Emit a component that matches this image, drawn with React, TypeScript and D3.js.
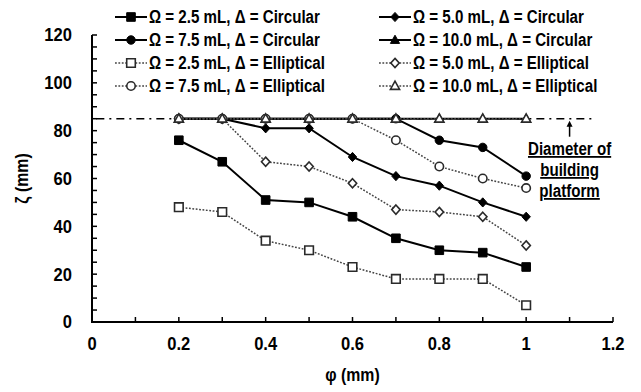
import React, { useEffect, useRef } from 'react';
import * as d3 from 'd3';

// phi values (mm)
const phi = [0.2, 0.3, 0.4, 0.5, 0.6, 0.7, 0.8, 0.9, 1.0];

// zeta values (mm)
const circ25 = [76, 67, 51, 50, 44, 35, 30, 29, 23];
const circ50 = [85, 85, 81, 81, 69, 61, 57, 50, 44];
const circ75 = [85, 85, 85, 85, 85, 85, 76, 73, 61];
const circ100 = [85, 85, 85, 85, 85, 85, 85, 85, 85];
const ell25 = [48, 46, 34, 30, 23, 18, 18, 18, 7];
const ell50 = [85, 85, 67, 65, 58, 47, 46, 44, 32];
const ell75 = [85, 85, 85, 85, 85, 76, 65, 60, 56];
const ell100 = [85, 85, 85, 85, 85, 85, 85, 85, 85];

const seriesLabels = [
  'Ω = 2.5 mL, Δ = Circular',
  'Ω = 5.0 mL, Δ = Circular',
  'Ω = 7.5 mL, Δ = Circular',
  'Ω = 10.0 mL, Δ = Circular',
  'Ω = 2.5 mL, Δ = Elliptical',
  'Ω = 5.0 mL, Δ = Elliptical',
  'Ω = 7.5 mL, Δ = Elliptical',
  'Ω = 10.0 mL, Δ = Elliptical',
];

const platformLevel = 85;
const xTicks = [0, 0.2, 0.4, 0.6, 0.8, 1, 1.2];
const yTicks = [0, 20, 40, 60, 80, 100, 120];

const FONT = '"Liberation Sans", Arial, sans-serif';

// squeeze text horizontally to imitate the narrow bold face of the original
const condense = (sel: any, factor: number) => {
  sel.each(function (this: SVGTextElement) {
    const w = this.getComputedTextLength();
    d3.select(this).attr('textLength', w * factor).attr('lengthAdjust', 'spacingAndGlyphs');
  });
};

const App = () => {
  const ref = useRef<SVGSVGElement>(null);

  useEffect(() => {
    const svg = d3.select(ref.current);
    svg.selectAll('*').remove();

    const x = d3.scaleLinear().domain([0, 1.2]).range([92, 613]);
    const y = d3.scaleLinear().domain([0, 120]).range([322, 35]);

    const series = [
      { name: seriesLabels[0], values: circ25, marker: 'square', filled: true },
      { name: seriesLabels[1], values: circ50, marker: 'diamond', filled: true },
      { name: seriesLabels[2], values: circ75, marker: 'circle', filled: true },
      { name: seriesLabels[3], values: circ100, marker: 'triangle', filled: true },
      { name: seriesLabels[4], values: ell25, marker: 'square', filled: false },
      { name: seriesLabels[5], values: ell50, marker: 'diamond', filled: false },
      { name: seriesLabels[6], values: ell75, marker: 'circle', filled: false },
      { name: seriesLabels[7], values: ell100, marker: 'triangle', filled: false },
    ];

    const markerPath = (m: string) => {
      if (m === 'square') return 'M-4.3,-4.3H4.3V4.3H-4.3Z';
      if (m === 'diamond') return 'M0,-4.6L4.2,0L0,4.6L-4.2,0Z';
      if (m === 'triangle') return 'M0,-4.8L4.6,3.4H-4.6Z';
      return d3.symbol().type(d3.symbolCircle).size(56)();
    };

    const drawMarker = (g: any, s: any, cx: number, cy: number) => {
      g.append('path')
        .attr('d', markerPath(s.marker))
        .attr('transform', `translate(${cx},${cy})`)
        .attr('fill', s.filled ? '#000' : '#fff')
        .attr('stroke', s.filled ? '#000' : '#2a2a2a')
        .attr('stroke-width', s.filled ? 1 : 1.6);
    };

    // axes
    const axes = svg.append('g').attr('stroke', '#000').attr('stroke-width', 2);
    axes.append('line').attr('x1', x(0)).attr('x2', x(0)).attr('y1', y(0) + 1).attr('y2', y(120));
    axes.append('line').attr('x1', x(0) - 1).attr('x2', x(1.2)).attr('y1', y(0)).attr('y2', y(0));
    d3.range(0, 121, 5).forEach((v) => {
      axes.append('line').attr('x1', x(0)).attr('x2', x(0) + 5).attr('y1', y(v)).attr('y2', y(v)).attr('stroke-width', 1.5);
    });
    d3.range(0, 13).forEach((i) => {
      const v = i / 10;
      axes.append('line').attr('x1', x(v)).attr('x2', x(v)).attr('y1', y(0)).attr('y2', y(0) - 5).attr('stroke-width', 1.5);
    });

    const yLabels = svg.append('g')
      .selectAll('text')
      .data(yTicks)
      .enter()
      .append('text')
      .attr('x', 72)
      .attr('y', (d) => y(d))
      .attr('dy', '0.36em')
      .attr('text-anchor', 'end')
      .attr('font-family', FONT)
      .attr('font-weight', 'bold')
      .attr('font-size', 18)
      .text((d) => d);
    condense(yLabels, 0.92);

    const xLabels = svg.append('g')
      .selectAll('text')
      .data(xTicks)
      .enter()
      .append('text')
      .attr('x', (d) => x(d))
      .attr('y', 350)
      .attr('text-anchor', 'middle')
      .attr('font-family', FONT)
      .attr('font-weight', 'bold')
      .attr('font-size', 18)
      .text((d) => String(+d.toFixed(1)));
    condense(xLabels, 0.92);

    const xTitle = svg.append('text')
      .attr('x', x(0.6))
      .attr('y', 381)
      .attr('text-anchor', 'middle')
      .attr('font-family', FONT)
      .attr('font-weight', 'bold')
      .attr('font-size', 18)
      .text('φ (mm)');
    condense(xTitle, 0.88);

    const yTitle = svg.append('text')
      .attr('transform', `translate(28,${y(60)}) rotate(-90)`)
      .attr('text-anchor', 'middle')
      .attr('font-family', FONT)
      .attr('font-weight', 'bold')
      .attr('font-size', 18)
      .text('ζ (mm)');
    condense(yTitle, 0.88);

    // platform diameter reference line
    svg.append('line')
      .attr('x1', x(0.01))
      .attr('x2', x(1.155))
      .attr('y1', y(platformLevel))
      .attr('y2', y(platformLevel))
      .attr('stroke', '#000')
      .attr('stroke-width', 1.5)
      .attr('stroke-dasharray', '8,5,2,5');

    // series
    const line = d3.line<number>().x((d, i) => x(phi[i])).y((d) => y(d));
    series.forEach((s) => {
      const g = svg.append('g');
      g.append('path')
        .attr('d', line(s.values))
        .attr('fill', 'none')
        .attr('stroke', s.filled ? '#000' : '#444')
        .attr('stroke-width', s.filled ? 2 : 1.5)
        .attr('stroke-dasharray', s.filled ? null : '1.8,1.6');
      s.values.forEach((v, i) => drawMarker(g, s, x(phi[i]), y(v)));
    });

    // annotation
    const ax = x(1.1);
    svg.append('line')
      .attr('x1', ax).attr('x2', ax)
      .attr('y1', y(platformLevel) + 18).attr('y2', y(platformLevel) + 6)
      .attr('stroke', '#000').attr('stroke-width', 1.5);
    svg.append('path')
      .attr('d', `M${ax - 3},${y(platformLevel) + 8} L${ax},${y(platformLevel) + 2} L${ax + 3},${y(platformLevel) + 8} Z`)
      .attr('fill', '#000');
    ['Diameter of', 'building', 'platform'].forEach((t, i) => {
      const txt = svg.append('text')
        .attr('x', ax)
        .attr('y', 155 + i * 21)
        .attr('text-anchor', 'middle')
        .attr('font-family', FONT)
        .attr('font-weight', 'bold')
        .attr('font-size', 18)
        .style('text-decoration', 'underline')
        .text(t);
      condense(txt, 0.84);
    });

    // legend
    const legend = svg.append('g');
    series.forEach((s, k) => {
      const col = k % 2;
      const row = Math.floor(k / 2);
      const lx = col === 0 ? 115 : 379;
      const ly = 17 + row * 23;
      const lg = legend.append('g');
      lg.append('line')
        .attr('x1', lx).attr('x2', lx + 32)
        .attr('y1', ly).attr('y2', ly)
        .attr('stroke', s.filled ? '#000' : '#444')
        .attr('stroke-width', s.filled ? 2 : 1.5)
        .attr('stroke-dasharray', s.filled ? null : '1.8,1.6');
      drawMarker(lg, s, lx + 16, ly);
      const txt = lg.append('text')
        .attr('x', lx + 34)
        .attr('y', ly)
        .attr('dy', '0.36em')
        .attr('font-family', FONT)
        .attr('font-weight', 'bold')
        .attr('font-size', 18)
        .text(s.name);
      condense(txt, 0.84);
    });
  }, []);

  return (
    <svg
      ref={ref}
      width={641}
      height={392}
      style={{ position: 'absolute', left: 0, top: 0, background: '#fff' }}
    />
  );
};

export default App;
